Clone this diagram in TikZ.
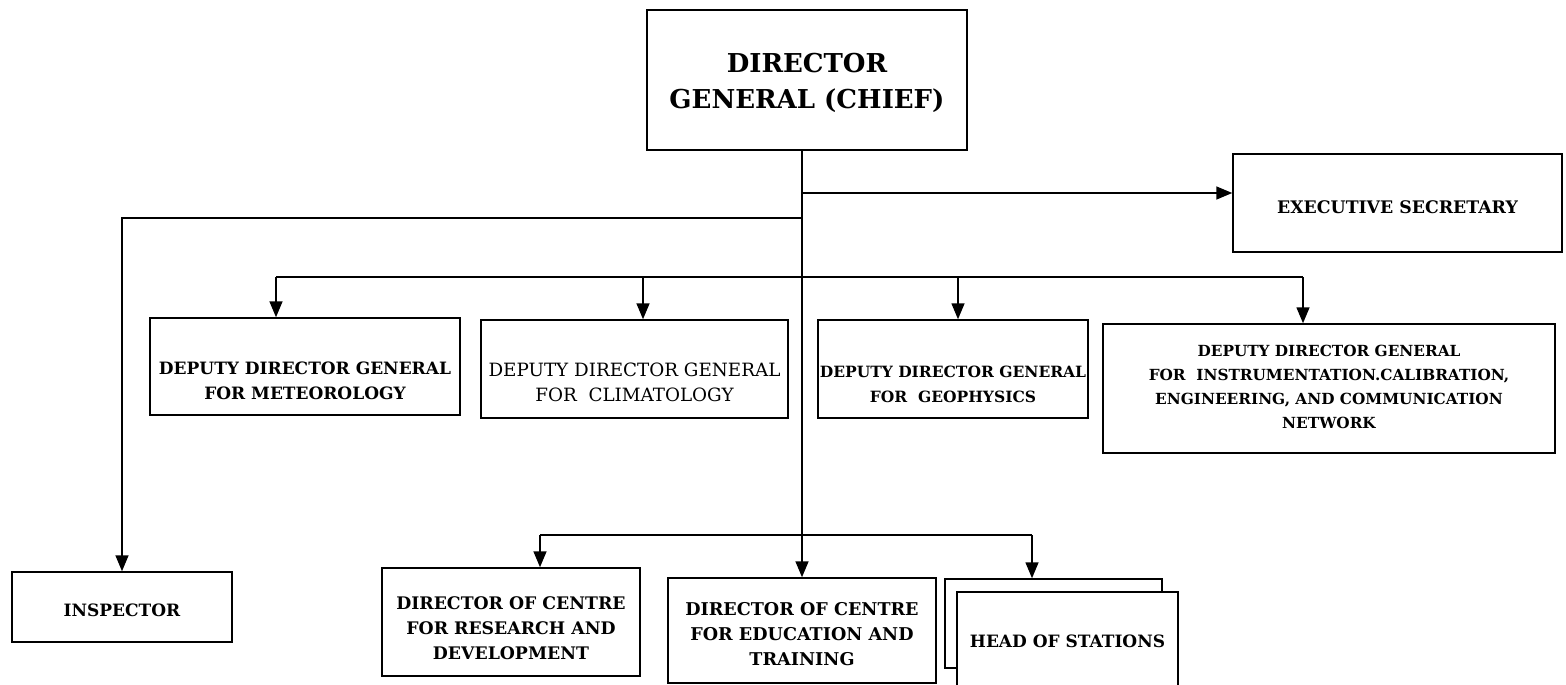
\documentclass[tikz,border=0pt]{standalone}
\usepackage{fontspec}
\setmainfont{DejaVu Serif}
\usetikzlibrary{arrows.meta}
\newcommand\fsz[2]{\fontsize{#1}{#2}\selectfont\bfseries}
\newcommand\fsr[2]{\fontsize{#1}{#2}\selectfont}
\begin{document}
\begin{tikzpicture}[x=1pt,y=-1pt,
  box/.style={draw,line width=1.5pt,inner sep=0pt,fill=white},
  txt/.style={inner sep=0pt,align=center},
  ln/.style={line width=1.6pt},
  arr/.style={line width=1.6pt,-{Triangle[length=16pt,width=13pt]}}]
\useasboundingbox (0,0) rectangle (1566,685);
% boxes
\node[box,minimum width=320pt,minimum height=140pt] (dg) at (807,80) {};
\node[txt,font=\fsz{26}{36}] (dgT) at ([yshift=-3pt]dg.center) {DIRECTOR\\GENERAL (CHIEF)};
\node[box,minimum width=329pt,minimum height=98pt] (es) at (1397.5,203) {};
\node[txt,font=\fsz{17.3}{20}] (esT) at ([yshift=-4pt]es.center) {EXECUTIVE SECRETARY};
\node[box,minimum width=220pt,minimum height=70pt] (insp) at (122,607) {};
\node[txt,font=\fsz{17}{22}] (inspT) at ([yshift=-3pt]insp.center) {INSPECTOR};
\node[box,minimum width=310pt,minimum height=97pt] (dm) at (305,366.5) {};
\node[txt,font=\fsz{17}{25}] (dmT) at ([yshift=-14pt]dm.center) {DEPUTY DIRECTOR GENERAL\\FOR METEOROLOGY};
\node[box,minimum width=307pt,minimum height=98pt] (dc) at (634.5,369) {};
\node[txt,font=\fsr{18.3}{25}] (dcT) at ([yshift=-13pt]dc.center) {DEPUTY DIRECTOR GENERAL\\FOR\ \ CLIMATOLOGY};
\node[box,minimum width=270pt,minimum height=98pt] (dgp) at (953,369) {};
\node[txt,font=\fsz{15.5}{25}] (dgpT) at ([yshift=-15pt]dgp.center) {DEPUTY DIRECTOR GENERAL\\FOR\ \ GEOPHYSICS};
\node[box,minimum width=452pt,minimum height=129pt] (di) at (1329,388.5) {};
\node[txt,font=\fsz{15.3}{24}] (diT) at ([yshift=2pt]di.center) {DEPUTY DIRECTOR GENERAL\\FOR\ \ INSTRUMENTATION.CALIBRATION,\\ENGINEERING, AND COMMUNICATION\\NETWORK};
\node[box,minimum width=258pt,minimum height=108pt] (rd) at (511,622) {};
\node[txt,font=\fsz{17.3}{25}] (rdT) at ([yshift=-6pt]rd.center) {DIRECTOR OF CENTRE\\FOR RESEARCH AND\\DEVELOPMENT};
\node[box,minimum width=268pt,minimum height=105pt] (edu) at (802,630.5) {};
\node[txt,font=\fsz{17.6}{25}] (eduT) at ([yshift=-4pt]edu.center) {DIRECTOR OF CENTRE\\FOR EDUCATION AND\\TRAINING};
\node[box,minimum width=217pt,minimum height=89pt] (hsb) at (1053.5,623.5) {};
\node[box,minimum width=221pt,minimum height=108pt] (hsf) at (1067.5,646) {};
\node[txt,font=\fsz{17}{20}] (hsT) at ([yshift=5pt]hsf.center) {HEAD OF STATIONS};
% junction points
\coordinate (cES) at (802,193);
\coordinate (cIN) at (802,218);
\coordinate (b1) at (276,277);
\coordinate (b2) at (643,277);
\coordinate (b3) at (958,277);
\coordinate (b4) at (1303,277);
\coordinate (c1) at (540,535);
\coordinate (c3) at (1032,535);
% connectors
\draw[ln] (edu.north |- dg.south) -- (edu.north |- c1);
\draw[arr] (edu.north |- c1) -- (edu.north);
\draw[arr] (cES) -- (cES -| es.west);
\draw[arr] (cIN) -- (cIN -| insp.north) -- (insp.north);
\draw[ln] (b1) -- (b4);
\draw[arr] (b1) -- (b1 |- dm.north);
\draw[arr] (b2) -- (b2 |- dc.north);
\draw[arr] (b3) -- (b3 |- dgp.north);
\draw[arr] (b4) -- (b4 |- di.north);
\draw[ln] (c1) -- (c3);
\draw[arr] (c1) -- (c1 |- rd.north);
\draw[arr] (c3) -- (c3 |- hsb.north);
\end{tikzpicture}
\end{document}
